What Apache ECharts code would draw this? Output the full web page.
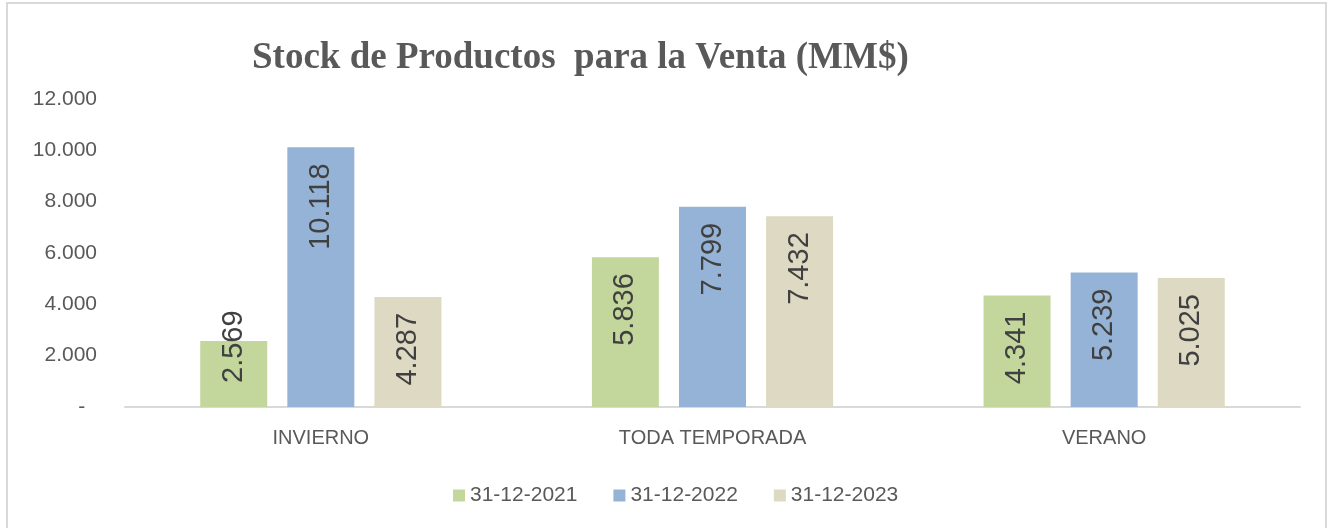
<!DOCTYPE html>
<html>
<head>
<meta charset="utf-8">
<script src="https://cdn.jsdelivr.net/npm/echarts@6/dist/echarts.min.js"></script>
<style>
  html, body { margin: 0; padding: 0; background: #fff; }
  .frame {
    position: absolute; left: 6px; top: 2px;
    width: 1321px; height: 540px;
    border: 2px solid #d9d9d9; box-sizing: border-box;
  }
  .main { position: absolute; left: 0; top: 0; width: 1329px; height: 528px; }
</style>
</head>
<body>
<div class="frame"></div>
<div id="main" class="main"></div>
<script>
// datos del gráfico
var categorias = ["INVIERNO", "TODA TEMPORADA", "VERANO"];
var fechas = ["31-12-2021", "31-12-2022", "31-12-2023"];
var stock2021 = [2569, 5836, 4341];
var stock2022 = [10118, 7799, 5239];
var stock2023 = [4287, 7432, 5025];
var colores = ["#c3d69b", "#95b3d7", "#ddd9c3"];

var chartDom = document.getElementById("main");
var myChart = echarts.init(chartDom);

// formato con punto de miles
const miles = v => String(v).replace(/\B(?=(\d{3})+(?!\d))/g, ".");

const makeSerie = (name, values, color) => {
  return {
    name: name,
    type: "bar",
    barWidth: 67,
    barGap: "30%",
    itemStyle: { color: color },
    data: values.map(v => ({
      value: v,
      // barras bajas: etiqueta desde abajo, como Excel
      label: v < 3500
        ? { position: "insideBottom", align: "left", distance: 24 }
        : { position: "insideTop", align: "right", distance: 16 }
    })),
    label: {
      show: true,
      rotate: 90,
      verticalAlign: "middle",
      color: "#404040",
      fontFamily: "Liberation Sans",
      fontSize: 29,
      formatter: p => miles(p.value)
    }
  };
};

var option = {
  animation: false,
  title: {
    text: "Stock de Productos  para la Venta (MM$)",
    left: 247,
    top: 35,
    textStyle: {
      fontFamily: "Liberation Serif",
      fontWeight: "bold",
      fontSize: 37,
      color: "#595959"
    }
  },
  legend: {
    data: fechas,
    left: 448,
    top: 480,
    itemWidth: 12,
    itemHeight: 12,
    itemGap: 36,
    icon: "rect",
    textStyle: {
      fontFamily: "Liberation Sans",
      fontSize: 21,
      color: "#595959"
    }
  },
  grid: {
    left: 125,
    right: 29,
    top: 99,
    bottom: 121
  },
  xAxis: {
    type: "category",
    data: categorias,
    axisLine: { lineStyle: { color: "#d9d9d9", width: 2 } },
    axisTick: { show: false },
    axisLabel: {
      margin: 21,
      fontFamily: "Liberation Sans",
      fontSize: 20,
      color: "#595959"
    }
  },
  yAxis: {
    type: "value",
    min: 0,
    max: 12000,
    interval: 2000,
    splitLine: { show: false },
    axisLine: { show: false },
    axisTick: { show: false },
    axisLabel: {
      margin: 28,
      fontFamily: "Liberation Sans",
      fontSize: 21,
      color: "#595959",
      formatter: v => (v === 0 ? "-  " : miles(v))
    }
  },
  series: [
    makeSerie(fechas[0], stock2021, colores[0]),
    makeSerie(fechas[1], stock2022, colores[1]),
    makeSerie(fechas[2], stock2023, colores[2])
  ]
};

myChart.setOption(option);
window.onresize = function() {
  myChart.resize();
};
</script>
</body>
</html>
